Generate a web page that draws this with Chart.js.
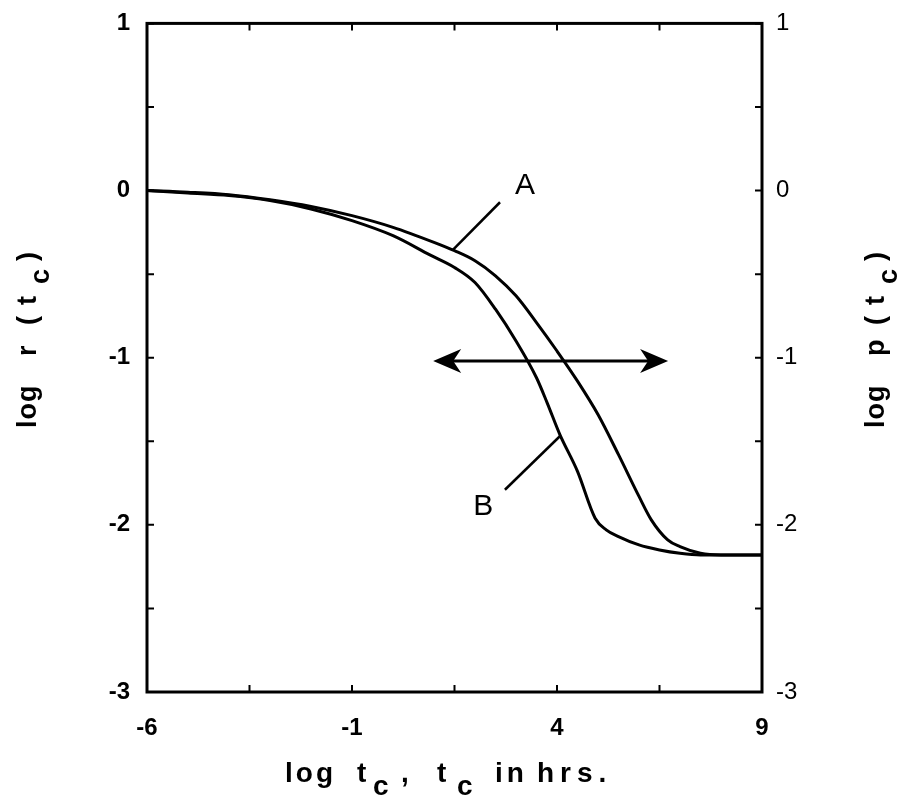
<!DOCTYPE html>
<html>
<head>
<meta charset="utf-8">
<script src="https://cdn.jsdelivr.net/npm/chart.js@4.4.1/dist/chart.umd.min.js"></script>
<style>
  body { margin: 0; background: #fff; }
  #wrap { width: 901px; height: 807px; }
</style>
</head>
<body>
<div id="wrap"><canvas id="myChart" width="901" height="807"></canvas></div>
<script>
// curve A (upper) and curve B (lower), log t_c against log r / log p
var curveAx = [-6, -5, -4, -3, -2, -1, 0, 1, 1.5, 2, 2.5, 3, 3.5, 4, 4.5, 5, 5.5, 6, 6.3, 6.7, 7, 7.5, 8, 9];
var curveAy = [0, -0.01, -0.025, -0.055, -0.095, -0.15, -0.22, -0.31, -0.36, -0.42, -0.51, -0.63, -0.79, -0.96, -1.14, -1.34, -1.58, -1.83, -1.97, -2.09, -2.13, -2.17, -2.18, -2.18];
var curveBx = [-6, -5, -4, -3, -2, -1, 0, 0.9, 1.5, 2, 2.5, 3, 3.5, 3.76, 4.07, 4.5, 4.93, 5.2, 5.5, 6, 6.5, 7, 7.5, 9];
var curveBy = [0, -0.015, -0.03, -0.06, -0.11, -0.18, -0.27, -0.385, -0.46, -0.55, -0.71, -0.90, -1.12, -1.27, -1.46, -1.68, -1.96, -2.03, -2.07, -2.12, -2.15, -2.17, -2.18, -2.18];

var xTickLabels = [-6, -1, 4, 9];
var yTickLabels = [1, 0, -1, -2, -3];

// annotation anchors in data units
var labelA = { x: 3.22, y: 0.03 };
var leaderA = [{ x: 1.46, y: -0.355 }, { x: 2.61, y: -0.07 }];
var labelB = { x: 2.2, y: -1.89 };
var leaderB = [{ x: 2.73, y: -1.79 }, { x: 4.07, y: -1.47 }];
var arrowSpan = { x1: 0.98, x2: 6.71, y: -1.02 };

function toPoints(xs, ys) {
    return xs.map(function (x, i) { return { x: x, y: ys[i] }; });
}

var boldFont = '"Liberation Sans", Arial, sans-serif';

var decorations = {
    id: 'decorations',
    afterDraw: function (chart) {
        var ctx = chart.ctx;
        var area = chart.chartArea;
        var xs = chart.scales.x, ys = chart.scales.y;
        function px(p) { return [xs.getPixelForValue(p.x), ys.getPixelForValue(p.y)]; }

        ctx.save();
        ctx.strokeStyle = '#000';
        ctx.fillStyle = '#000';

        // frame
        ctx.lineWidth = 3;
        ctx.strokeRect(area.left, area.top, area.right - area.left, area.bottom - area.top);

        // inward ticks on all four sides
        ctx.lineWidth = 2;
        xs.ticks.forEach(function (t) {
            var x = xs.getPixelForValue(t.value);
            ctx.beginPath();
            ctx.moveTo(x, area.bottom); ctx.lineTo(x, area.bottom - 7);
            ctx.moveTo(x, area.top); ctx.lineTo(x, area.top + 7);
            ctx.stroke();
        });
        ys.ticks.forEach(function (t) {
            var y = ys.getPixelForValue(t.value);
            ctx.beginPath();
            ctx.moveTo(area.left, y); ctx.lineTo(area.left + 7, y);
            ctx.moveTo(area.right, y); ctx.lineTo(area.right - 7, y);
            ctx.stroke();
        });

        // leader lines
        ctx.lineWidth = 2.5;
        [leaderA, leaderB].forEach(function (seg) {
            var a = px(seg[0]), b = px(seg[1]);
            ctx.beginPath();
            ctx.moveTo(a[0], a[1]); ctx.lineTo(b[0], b[1]);
            ctx.stroke();
        });

        // curve labels
        ctx.font = '30px ' + boldFont;
        ctx.textAlign = 'center';
        ctx.textBaseline = 'middle';
        var pa = px(labelA), pb = px(labelB);
        ctx.fillText('A', pa[0], pa[1]);
        ctx.fillText('B', pb[0], pb[1]);

        // double-headed arrow
        var l = px({ x: arrowSpan.x1, y: arrowSpan.y });
        var r = px({ x: arrowSpan.x2, y: arrowSpan.y });
        ctx.lineWidth = 3;
        ctx.beginPath();
        ctx.moveTo(l[0] + 10, l[1]); ctx.lineTo(r[0] - 10, r[1]);
        ctx.stroke();
        function head(tipX, tipY, dir) {
            ctx.beginPath();
            ctx.moveTo(tipX, tipY);
            ctx.lineTo(tipX + dir * 28, tipY - 12);
            ctx.lineTo(tipX + dir * 20, tipY);
            ctx.lineTo(tipX + dir * 28, tipY + 12);
            ctx.closePath();
            ctx.fill();
        }
        head(l[0], l[1], 1);
        head(r[0], r[1], -1);

        // axis titles, each piece placed along the text direction
        ctx.textAlign = 'left';
        ctx.textBaseline = 'alphabetic';
        function run(parts, x0, y0, spacing) {
            parts.forEach(function (p) {
                ctx.letterSpacing = (p.sp || spacing) + 'px';
                ctx.fillText(p.t, x0 + p.at, y0 + (p.sub ? 13 : 0));
            });
        }
        ctx.font = 'bold 28px ' + boldFont;
        run([
            { t: 'log', at: 0, sp: 3 }, { t: 't', at: 72 }, { t: 'c', at: 88, sub: true }, { t: ',', at: 116 },
            { t: 't', at: 152 }, { t: 'c', at: 172, sub: true }, { t: 'in', at: 210 }, { t: 'hrs.', at: 252, sp: 6 }
        ], 285, 782, 4);

        ctx.font = 'bold 27px ' + boldFont;
        var sideTitle = function (letter) {
            return [
                { t: 'log', at: 0 }, { t: letter, at: 72 }, { t: '(', at: 103 }, { t: 't', at: 123 },
                { t: 'c', at: 144, sub: true }, { t: ')', at: 167 }
            ];
        };
        ctx.save();
        ctx.translate(36, 428);
        ctx.rotate(-Math.PI / 2);
        run(sideTitle('r'), 0, 0, 1);
        ctx.restore();

        ctx.save();
        ctx.translate(884, 428);
        ctx.rotate(-Math.PI / 2);
        run(sideTitle('p'), 0, 0, 1);
        ctx.restore();

        ctx.restore();
    }
};

var tickFont = { family: boldFont, size: 24, weight: 'bold' };

var config = {
    type: 'scatter',
    data: {
        datasets: [{
            label: 'A',
            data: toPoints(curveAx, curveAy),
            showLine: true,
            borderColor: '#000',
            borderWidth: 3,
            pointRadius: 0,
            cubicInterpolationMode: 'monotone'
        }, {
            label: 'B',
            data: toPoints(curveBx, curveBy),
            showLine: true,
            borderColor: '#000',
            borderWidth: 3,
            pointRadius: 0,
            cubicInterpolationMode: 'monotone'
        }]
    },
    options: {
        responsive: false,
        animation: false,
        devicePixelRatio: 1,
        layout: { padding: { top: 15, left: 0, right: 0, bottom: 0 } },
        plugins: { legend: { display: false }, tooltip: { enabled: false } },
        scales: {
            x: {
                type: 'linear', min: -6, max: 9,
                grid: { display: false },
                border: { display: false },
                afterFit: function (s) { s.height = 115; },
                ticks: {
                    stepSize: 2.5, padding: 14, color: '#000', font: tickFont, maxRotation: 0,
                    callback: function (v) { return xTickLabels.indexOf(v) >= 0 ? String(v) : ''; }
                }
            },
            y: {
                type: 'linear', position: 'left', min: -3, max: 1,
                grid: { display: false },
                border: { display: false },
                afterFit: function (s) { s.width = 147; },
                ticks: {
                    stepSize: 0.5, padding: 9, color: '#000', font: tickFont,
                    callback: function (v) { return yTickLabels.indexOf(v) >= 0 ? String(v) : ''; }
                }
            },
            y2: {
                type: 'linear', position: 'right', min: -3, max: 1,
                grid: { display: false },
                border: { display: false },
                afterFit: function (s) { s.width = 139; },
                ticks: {
                    stepSize: 0.5, padding: 6, color: '#000', font: { family: boldFont, size: 24 },
                    callback: function (v) { return yTickLabels.indexOf(v) >= 0 ? String(v) : ''; }
                }
            }
        }
    },
    plugins: [decorations]
};

window.onload = function () {
    var ctx = document.getElementById('myChart');
    window.myChart = new Chart(ctx, config);
};
</script>
</body>
</html>
